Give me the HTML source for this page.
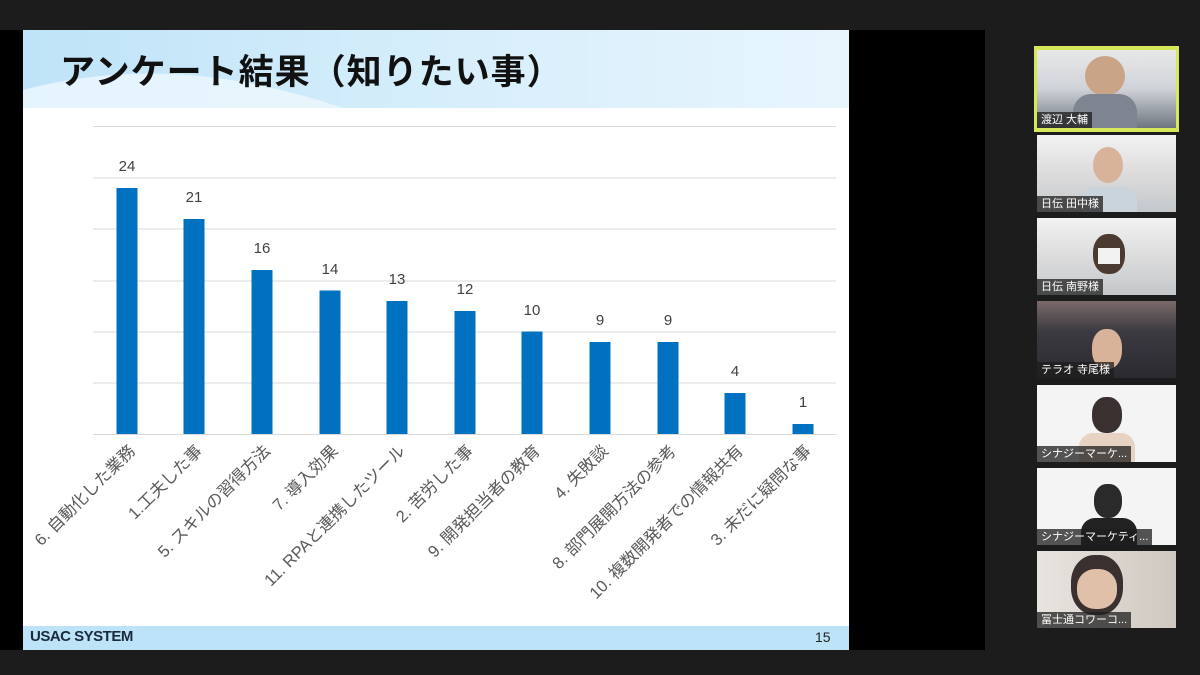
<!DOCTYPE html>
<html><head><meta charset="utf-8"><style>
body{margin:0;width:1200px;height:675px;background:#1c1c1c;overflow:hidden;position:relative;font-family:"Liberation Sans","Noto Sans CJK JP",sans-serif}
.abs{position:absolute}
.tile{position:absolute;left:1037px;width:139px;height:77px;overflow:hidden}
.nm{position:absolute;left:0;bottom:0;background:rgba(30,30,30,.75);color:#fff;font-size:11px;padding:1px 4px;line-height:14px;white-space:nowrap}
</style></head><body>
<div class="abs" style="left:0;top:30px;width:985px;height:620px;background:#000"></div>
<div class="abs" style="left:23px;top:30px;width:826px;height:620px;background:#fff"></div>
<div class="abs" style="left:23px;top:30px;width:826px;height:78px;background:linear-gradient(90deg,#bfe3f8,#d6eefb 50%,#e8f5fd)"></div>
<svg class="abs" style="left:23px;top:30px" width="826" height="78"><path d="M0 60 Q150 20 320 78 L0 78Z" fill="#eef8fe" opacity=".8"/></svg>
<div class="abs" style="left:60px;top:44px;font-size:35px;font-weight:bold;color:#111;letter-spacing:1px">アンケート結果（知りたい事）</div>
<svg class="abs" style="left:0;top:0" width="849" height="626" font-family="Liberation Sans,Noto Sans CJK JP,sans-serif">
<g stroke="#d9d9d9" stroke-width="1">
<line x1="93" x2="836" y1="126.5" y2="126.5"/><line x1="93" x2="836" y1="178" y2="178"/><line x1="93" x2="836" y1="229" y2="229"/><line x1="93" x2="836" y1="281" y2="281"/><line x1="93" x2="836" y1="332" y2="332"/><line x1="93" x2="836" y1="383" y2="383"/><line x1="93" x2="836" y1="434.5" y2="434.5"/>
</g>
<g fill="#0070c0">
<rect x="116.5" y="188" width="21" height="246"/><rect x="183.5" y="219" width="21" height="215"/><rect x="251.5" y="270" width="21" height="164"/><rect x="319.5" y="290.5" width="21" height="143.5"/><rect x="386.5" y="301" width="21" height="133"/><rect x="454.5" y="311" width="21" height="123"/><rect x="521.5" y="331.5" width="21" height="102.5"/><rect x="589.5" y="342" width="21" height="92"/><rect x="657.5" y="342" width="21" height="92"/><rect x="724.5" y="393" width="21" height="41"/><rect x="792.5" y="424" width="21" height="10"/>
</g>
<g font-size="15" fill="#404040" text-anchor="middle">
<text x="127" y="171">24</text><text x="194" y="202">21</text><text x="262" y="253">16</text><text x="330" y="274">14</text><text x="397" y="284">13</text><text x="465" y="294">12</text><text x="532" y="315">10</text><text x="600" y="325">9</text><text x="668" y="325">9</text><text x="735" y="376">4</text><text x="803" y="407">1</text>
</g>
<g font-size="16.5" fill="#595959" text-anchor="end">
<text transform="translate(136,452) rotate(-45)">6. 自動化した業務</text>
<text transform="translate(203,452) rotate(-45)">1.工夫した事</text>
<text transform="translate(271,452) rotate(-45)">5. スキルの習得方法</text>
<text transform="translate(339,452) rotate(-45)">7. 導入効果</text>
<text transform="translate(406,452) rotate(-45)">11. RPAと連携したツール</text>
<text transform="translate(474,452) rotate(-45)">2. 苦労した事</text>
<text transform="translate(541,452) rotate(-45)">9. 開発担当者の教育</text>
<text transform="translate(609,452) rotate(-45)">4. 失敗談</text>
<text transform="translate(677,452) rotate(-45)">8. 部門展開方法の参考</text>
<text transform="translate(744,452) rotate(-45)">10. 複数開発者での情報共有</text>
<text transform="translate(812,452) rotate(-45)">3. 未だに疑問な事</text>
</g>
</svg>
<div class="abs" style="left:23px;top:626px;width:826px;height:24px;background:#bde3f8"></div>
<div class="abs" style="left:30px;top:628px;font-size:15px;font-weight:bold;color:#1a2a3a;letter-spacing:-0.5px">USAC SYSTEM</div>
<div class="abs" style="left:815px;top:629px;font-size:14px;color:#222">15</div>

<div class="abs" style="left:1034px;top:46px;width:145px;height:86px;background:#d6e85a"></div>
<div class="tile" style="top:50px;height:78px;background:linear-gradient(180deg,#e8e8e8,#cfd3d8 50%,#6f7580)"><div class="abs" style="left:48px;top:6px;width:40px;height:40px;border-radius:50%;background:#c9a486"></div><div class="abs" style="left:36px;top:44px;width:64px;height:34px;background:#7f8590;border-radius:18px 18px 0 0"></div><div class="nm">渡辺 大輔</div></div>
<div class="tile" style="top:135px;background:linear-gradient(180deg,#f2f2f2,#dcdcdc 50%,#c4c8cb)"><div class="abs" style="left:56px;top:12px;width:30px;height:36px;border-radius:50%;background:#d8b39a"></div><div class="abs" style="left:44px;top:52px;width:56px;height:26px;background:#c9d4dc;border-radius:14px 14px 0 0"></div><div class="nm">日伝 田中様</div></div>
<div class="tile" style="top:218px;background:linear-gradient(180deg,#f2f2f2,#dcdcdc 50%,#c4c8cb)"><div class="abs" style="left:56px;top:16px;width:32px;height:40px;border-radius:45%;background:#4a3a30"></div><div class="abs" style="left:61px;top:30px;width:22px;height:16px;background:#f2f2f2"></div><div class="nm">日伝 南野様</div></div>
<div class="tile" style="top:301px;background:linear-gradient(180deg,#7b6a6a,#3a3a40 40%,#2a2a30)"><div class="abs" style="left:55px;top:28px;width:30px;height:40px;border-radius:45%;background:#d8b39a"></div><div class="nm">テラオ 寺尾様</div></div>
<div class="tile" style="top:385px;background:#f4f4f4"><div class="abs" style="left:55px;top:12px;width:30px;height:36px;border-radius:45%;background:#3a3030"></div><div class="abs" style="left:42px;top:48px;width:56px;height:29px;background:#e8d2c2;border-radius:14px 14px 0 0"></div><div class="nm">シナジーマーケ...</div></div>
<div class="tile" style="top:468px;background:#f4f4f4"><div class="abs" style="left:57px;top:16px;width:28px;height:34px;border-radius:45%;background:#2a2a2a"></div><div class="abs" style="left:44px;top:50px;width:56px;height:27px;background:#222;border-radius:14px 14px 0 0"></div><div class="nm">シナジーマーケティ...</div></div>
<div class="tile" style="top:551px;background:linear-gradient(90deg,#e8e4e0,#cfc8c0)"><div class="abs" style="left:34px;top:4px;width:52px;height:60px;border-radius:45%;background:#3a3030"></div><div class="abs" style="left:40px;top:18px;width:40px;height:40px;border-radius:45%;background:#e0c0a8"></div><div class="nm">冨士通コワーコ...</div></div>
</body></html>
